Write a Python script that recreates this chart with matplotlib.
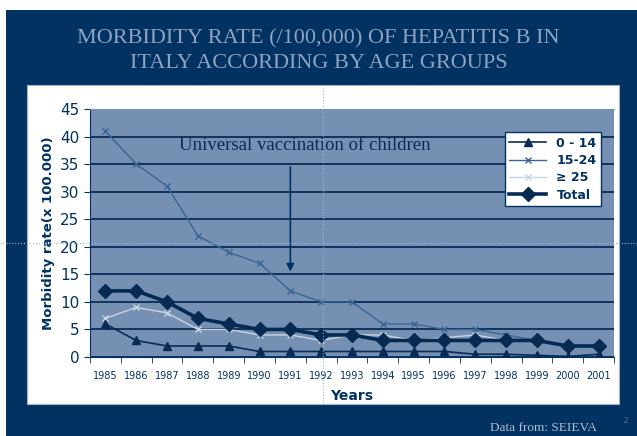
import matplotlib
matplotlib.use("Agg")
import matplotlib.pyplot as plt
from matplotlib.patches import Rectangle
from matplotlib.lines import Line2D
import numpy as np

# data
years = ["1985", "1986", "1987", "1988", "1989", "1990", "1991", "1992", "1993",
         "1994", "1995", "1996", "1997", "1998", "1999", "2000", "2001"]
age_0_14 = [6, 3, 2, 2, 2, 1, 1, 1, 1, 1, 1, 1, 0.5, 0.5, 0.3, 0.1, 0.5]
age_15_24 = [41, 35, 31, 22, 19, 17, 12, 10, 10, 6, 6, 5, 5, 4, 3, 2, 1.8]
age_25_up = [7, 9, 8, 5, 5, 4, 4, 3, 4, 4, 3, 3.5, 4, 3, 3, 2, 2]
total = [12, 12, 10, 7, 6, 5, 5, 4, 4, 3, 3, 3, 3, 3, 3, 2, 2]

navy = "#023261"
plot_bg = "#7590b2"
grid_col = "#0b2b56"

fig = plt.figure(figsize=(6.37, 4.36), dpi=100)
fig.patch.set_facecolor("white")

# slide background and white chart panel
fig.add_artist(Rectangle((6/637, 0), 1, 1 - 10/436, transform=fig.transFigure,
                         facecolor=navy, edgecolor="none", zorder=-2))
fig.add_artist(Rectangle((27/637, 1 - 404/436), (619-27)/637, (404-85)/436,
                         transform=fig.transFigure, facecolor="white",
                         edgecolor="#9fb3cc", lw=0.8, zorder=-1))

fig.text(0.5, 1 - 39/436, "MORBIDITY RATE (/100,000) OF HEPATITIS B IN",
         ha="center", va="center", fontsize=16, color="#8ea3c1",
         family="Liberation Serif")
fig.text(0.5, 1 - 64/436, "ITALY ACCORDING BY AGE GROUPS",
         ha="center", va="center", fontsize=16, color="#8ea3c1",
         family="Liberation Serif")
fig.text(597/637, 1 - 428/436, "Data from: SEIEVA", ha="right", va="center",
         fontsize=9.5, color="#aebcd0", family="Liberation Serif")
fig.text(626/637, 1 - 421/436, "2", ha="center", va="center",
         fontsize=6, color="#6c85a8", family="Liberation Serif")

ax = fig.add_axes([90/637, 1 - 357/436, (614-90)/637, (357-109)/436])
ax.set_facecolor(plot_bg)
x = np.arange(len(years))

ax.plot(x, age_0_14, color="#0a2b55", lw=1.2, marker="^", ms=6, label="0 - 14", zorder=4)
ax.plot(x, age_15_24, color="#3a6594", lw=1.0, marker="x", ms=5, mew=1, label="15-24", zorder=3)
ax.plot(x, age_25_up, color="#c9d4e2", lw=1.0, marker="x", ms=4, mew=1, label="\u2265 25", zorder=3)
ax.plot(x, total, color="#062a52", lw=2.6, marker="D", ms=7, label="Total", zorder=5)

ax.set_xlim(-0.5, len(years) - 0.5)
ax.set_ylim(0, 45)
ax.set_yticks(range(0, 46, 5))
ax.yaxis.grid(True, color=grid_col, lw=1.3)
ax.set_axisbelow(True)
ax.set_xticks(x)
ax.set_xticklabels(years, fontsize=7, color=navy)
ax.set_xticks(np.arange(-0.5, len(years), 1), minor=True)
ax.tick_params(axis="x", which="major", length=0, pad=10)
ax.tick_params(axis="x", which="minor", length=4, color=navy, direction="out")
ax.tick_params(axis="y", labelsize=11, colors=navy, length=4, direction="out")
for s in ax.spines.values():
    s.set_color(navy)
ax.spines["right"].set_visible(False)
ax.spines["top"].set_color(plot_bg)

ax.set_xlabel("Years", fontsize=10, fontweight="bold", color=navy, labelpad=6)
ax.set_ylabel("Morbidity rate(x 100.000)", fontsize=9.5, fontweight="bold", color=navy, labelpad=4)

ax.text(6.48, 38.3, "Universal vaccination of children", ha="center", va="center",
        fontsize=13.5, color="#0a2b55", family="Liberation Serif")
ax.annotate("", xy=(6, 15), xytext=(6, 35),
            arrowprops=dict(arrowstyle="-|>", color=navy, lw=1.2, mutation_scale=11))

leg = ax.legend(loc="upper right", bbox_to_anchor=(0.987, 0.931), fontsize=9,
                frameon=True, fancybox=False, edgecolor=navy, framealpha=1,
                handlelength=3.0, borderpad=0.35, labelspacing=0.35)
for t in leg.get_texts():
    t.set_color(navy)
    t.set_fontweight("bold")

# slide guide lines
fig.add_artist(Line2D([323/637, 323/637], [1 - 404/436, 1 - 86/436], transform=fig.transFigure,
                      color="#9fb6d6", lw=0.8, ls=":", zorder=10))
fig.add_artist(Line2D([0, 1], [1 - 243/436, 1 - 243/436], transform=fig.transFigure,
                      color="#9fb6d6", lw=0.8, ls=":", zorder=10))

fig.savefig("out.png", dpi=100, facecolor=fig.get_facecolor())
